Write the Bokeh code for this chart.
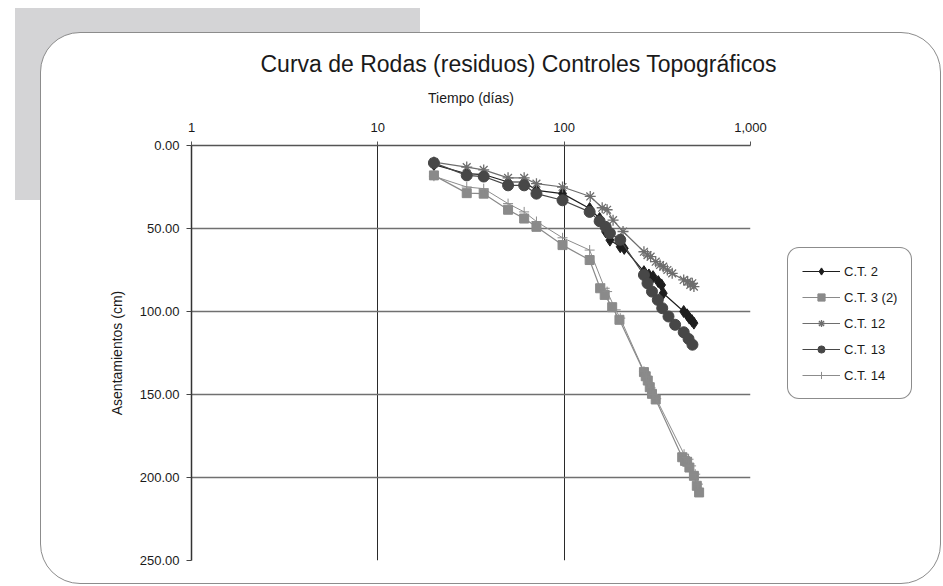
from bokeh.plotting import figure
from bokeh.layouts import row
from bokeh.models import (Range1d, FixedTicker, NumeralTickFormatter, Legend,
                          LegendItem, InlineStyleSheet)
from bokeh.embed import file_html
from bokeh.resources import INLINE

# ---- settlement readings (days since start, settlement in cm) ----
ct2_dias = [20, 30, 37, 50, 61, 71, 98, 137, 155, 167, 176, 200, 210,
            268, 285, 300, 320, 333, 340, 438, 457, 470, 485, 497]
ct2_cm = [11.5, 17, 17.5, 22, 22, 27, 29, 38, 44, 52, 57, 61, 62,
          76, 78, 79, 82, 84, 89, 100, 102, 104, 105.5, 107]

ct3_dias = [20, 30, 37, 50, 61, 71, 98, 137, 156, 165, 181, 198,
            268, 274, 281, 288, 296, 310, 430, 445, 457, 470, 497, 515, 530]
ct3_cm = [18, 28.7, 29, 38.7, 44, 49, 60, 69, 86, 90, 97.4, 105,
          136.5, 139, 141.6, 145.6, 149.6, 153, 187.8, 190, 190.5, 194, 199, 205, 209]

ct12_dias = [20, 30, 37, 50, 61, 71, 98, 138, 160, 170, 183, 207,
             268, 280, 291, 310, 327, 340, 358, 380, 438, 460, 475, 487, 497]
ct12_cm = [10, 13, 14.7, 19.5, 19.5, 23, 25, 30.7, 37.5, 38.7, 45, 51.8,
           64, 66, 67, 70, 72, 73, 75, 77, 81, 82, 84, 83, 85]

ct13_dias = [20, 30, 37, 50, 61, 71, 98, 137, 155, 167, 176, 200,
             268, 280, 296, 318, 336, 363, 394, 438, 465, 488]
ct13_cm = [10.5, 18, 18.7, 24, 24, 29, 33, 40, 45.6, 49, 52.8, 56.8,
           78, 83, 88, 93, 98, 103, 108, 112.5, 116.5, 120]

ct14_dias = [20, 30, 37, 50, 61, 71, 98, 137, 165, 170, 189, 200,
             268, 276, 283, 291, 300, 312, 440, 455, 465, 480, 505, 522]
ct14_cm = [18.5, 25, 26, 35, 40, 45.8, 55.6, 63, 86, 88, 99, 104,
           136, 139.5, 143, 146, 150, 152.5, 186, 188, 189, 193, 198, 204]

x_ticks = [1, 10, 100, 1000]
y_ticks = [0, 50, 100, 150, 200, 250]

FONT = "Liberation Sans"
MAIN_W, LEG_W, H = 780, 163, 586

p = figure(width=MAIN_W, height=H, x_axis_type="log", x_axis_location="above",
           x_range=Range1d(1, 1000), y_range=Range1d(250, 0),
           output_backend="svg", toolbar_location=None,
           min_border_left=191, min_border_right=30,
           min_border_top=145, min_border_bottom=26)
p.background_fill_color = "white"
p.border_fill_alpha = 0
p.outline_line_color = None

# title
p.title.text = "Curva de Rodas (residuos) Controles Topográficos"
p.title.align = "left"
p.title.offset = 69
p.title.standoff = 20
p.title.text_font = FONT
p.title.text_font_size = "23px"
p.title.text_font_style = "normal"
p.title.text_color = "#1a1a1a"

# axes
xa = p.xaxis[0]
xa.ticker = FixedTicker(ticks=x_ticks, minor_ticks=[])
xa.formatter = NumeralTickFormatter(format="0,0")
xa.axis_label = "Tiempo (días)"
ya = p.yaxis[0]
ya.ticker = FixedTicker(ticks=y_ticks, minor_ticks=[])
ya.formatter = NumeralTickFormatter(format="0.00")
ya.axis_label = "Asentamientos (cm)"
for ax in (xa, ya):
    ax.axis_label_text_font = FONT
    ax.axis_label_text_font_style = "normal"
    ax.axis_label_text_color = "#1a1a1a"
    ax.axis_label_text_font_size = "14px"
    ax.major_label_text_font = FONT
    ax.major_label_text_font_size = "13px"
    ax.major_label_text_color = "#1a1a1a"
    ax.major_tick_in = 0
    ax.minor_tick_line_color = None
xa.major_tick_out = 4
xa.major_label_standoff = 10
xa.axis_label_standoff = 14
xa.axis_line_color = "#555555"
xa.axis_line_width = 1.5
xa.major_tick_line_color = "#555555"
ya.major_tick_out = 5
ya.major_label_standoff = 7
ya.axis_label_standoff = 12
ya.axis_line_color = "#333333"
ya.axis_line_width = 1.5
ya.major_tick_line_color = "#444444"

p.xgrid.grid_line_color = "#2a2a2a"
p.xgrid.grid_line_width = 1
p.ygrid.grid_line_color = "#707070"
p.ygrid.grid_line_width = 1.5

# side panel that only carries the legend; its ranges keep the series off-canvas
pl = figure(width=LEG_W, height=H, x_range=Range1d(0, 1), y_range=Range1d(0, 1),
            x_axis_type=None, y_axis_type=None,
            output_backend="svg", toolbar_location=None,
            min_border_left=0, min_border_right=0,
            min_border_top=0, min_border_bottom=0)
pl.background_fill_alpha = 0
pl.border_fill_alpha = 0
pl.outline_line_color = None
pl.xgrid.visible = False
pl.ygrid.visible = False

series = [
    ("C.T. 2", ct2_dias, ct2_cm, "#1e1e1e", "diamond", 12, 1.2),
    ("C.T. 3 (2)", ct3_dias, ct3_cm, "#8a8a8a", "square", 9, 1.2),
    ("C.T. 12", ct12_dias, ct12_cm, "#6e6e6e", "asterisk", 11, 1.2),
    ("C.T. 13", ct13_dias, ct13_cm, "#474747", "circle", 11, 1.2),
    ("C.T. 14", ct14_dias, ct14_cm, "#8c8c8c", "cross", 10, 1.0),
]


def draw(fig, xs, ys, color, marker, size, lw):
    ln = fig.line(xs, ys, line_color=color, line_width=lw)
    if marker in ("asterisk", "cross"):
        mk = fig.scatter(xs, ys, marker=marker, size=size, line_color=color,
                         line_width=1.3 if marker == "asterisk" else 1.0)
    else:
        mk = fig.scatter(xs, ys, marker=marker, size=size, fill_color=color,
                         line_color=color)
    return ln, mk


items = []
for label, xs, ys, color, marker, size, lw in series:
    draw(p, xs, ys, color, marker, size, lw)
    # legend swatches: same styling, drawn in the legend panel
    ln, mk = draw(pl, xs, ys, color, marker, size, lw)
    items.append(LegendItem(label=label, renderers=[ln, mk]))

legend = Legend(items=items, location=(7, 161), orientation="vertical")
legend.label_text_font = FONT
legend.label_text_font_size = "13px"
legend.label_text_color = "#1a1a1a"
legend.glyph_width = 38
legend.glyph_height = 18
legend.label_height = 18
legend.label_standoff = 4
legend.spacing = 8
legend.padding = 14
legend.margin = 0
legend.border_line_color = "#1a1a1a"
legend.border_line_width = 1
legend.background_fill_color = "white"
legend.background_fill_alpha = 1
try:
    legend.border_radius = 12
except AttributeError:
    pass
pl.add_layout(legend, "center")

layout = row(p, pl, spacing=0)
# grey tab and rounded white card painted behind the transparent canvases
layout.stylesheets = [InlineStyleSheet(css="""
:host { position: relative; }
:host::before {
  content: ""; position: absolute; z-index: -1;
  left: 15px; top: 8px; width: 405px; height: 192px;
  background: #d4d4d6;
}
:host::after {
  content: ""; position: absolute; z-index: -1; box-sizing: border-box;
  left: 40px; top: 32px; width: 901px; height: 552px;
  background: #ffffff; border: 1px solid #8c8c8c; border-radius: 40px;
}
""")]

open("out.html", "w").write(file_html(layout, INLINE))
